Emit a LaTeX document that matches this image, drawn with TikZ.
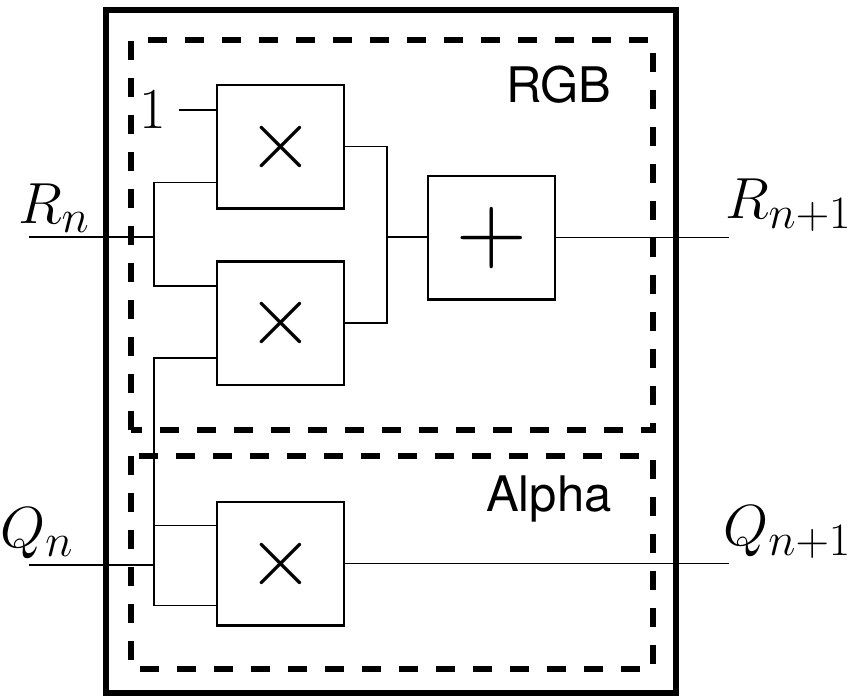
\RequirePackage{fix-cm}
\documentclass[tikz,border=0pt]{standalone}
\usepackage{fontspec}
\setsansfont{TeX Gyre Heros}
\usepackage{tikz}
\usetikzlibrary{positioning}
\DeclareMathSizes{29}{29}{23.2}{18}

\begin{document}
\begin{tikzpicture}[
    x=0.5pt, y=-0.5pt,
    blk/.style={rectangle, draw=black, line width=1.2pt, inner sep=0pt, minimum width=63.3pt, minimum height=61.8pt, font=\fontsize{43}{43}\selectfont},
    wire/.style={line width=0.65pt},
    frame/.style={line width=3pt},
    group/.style={line width=2.9pt, dash pattern=on 9.5pt off 9pt},
    lbl/.style={inner sep=0pt, font=\fontsize{29}{29}\selectfont},
    tag/.style={inner sep=0pt, anchor=base east, font=\sffamily\fontsize{24.5}{24.5}\selectfont}
]
\useasboundingbox (0,0) rectangle (857,696);

% frames
\draw[frame] (106,10) rectangle (675.5,693);
\draw[group] (131,430) -- (131,40) -- (653,40) -- (653,430) -- cycle;
\draw[group] (131,456) rectangle (653,669);
\node[tag] (rgb) at (612,102) {RGB};
\node[tag] (alpha) at (612,511) {Alpha};

% blocks
\node[blk] (mula) at (280.5,146.5) {$\times$};
\node[blk, below=25.3pt of mula] (mulb) {$\times$};
\node[blk, below=57.3pt of mulb] (mulq) {$\times$};
\node[blk, font=\fontsize{49}{49}\selectfont] (sum) at (491.5,237.5) {$+$};

% ports
\coordinate (onein) at (179,110);
\coordinate (rin) at (29,237);
\coordinate (qin) at (29,565);
\coordinate (rout) at (729,237);
\coordinate (qout) at (729,565);
\coordinate (jr) at (154,237);
\coordinate (jq) at (154,565);
\coordinate (js) at (387,237);

\node[lbl, left=6.5pt of onein] (one) {$1$};
\node[lbl, above right=2pt and -5.5pt of rin] (rn) {$R_n$};
\node[lbl, above right=3pt and -14.5pt of qin] (qn) {$Q_n$};
\node[lbl, above right=2.5pt and -2pt of rout] (rnext) {$R_{n+1}$};
\node[lbl, above right=3pt and -3pt of qout] (qnext) {$Q_{n+1}$};

% wires
\draw[wire] (onein) -- (onein -| mula.west);
\draw[wire] (rin) -- (jr);
\draw[wire] (jr) |- ([yshift=-18pt]mula.west);
\draw[wire] (jr) |- ([yshift=18.5pt]mulb.west);
\draw[wire] ([yshift=-17.5pt]mulb.west) -| (jq);
\draw[wire] (qin) -- (jq);
\draw[wire] (jq) |- ([yshift=19pt]mulq.west);
\draw[wire] (jq) |- ([yshift=-21pt]mulq.west);
\draw[wire] (mula.east) -| (js);
\draw[wire] (mulb.east) -| (js);
\draw[wire] (js) -- (js -| sum.west);
\draw[wire] (sum.east) -- (sum.east -| rout);
\draw[wire] (mulq.east) -- (mulq.east -| qout);

\end{tikzpicture}
\end{document}
